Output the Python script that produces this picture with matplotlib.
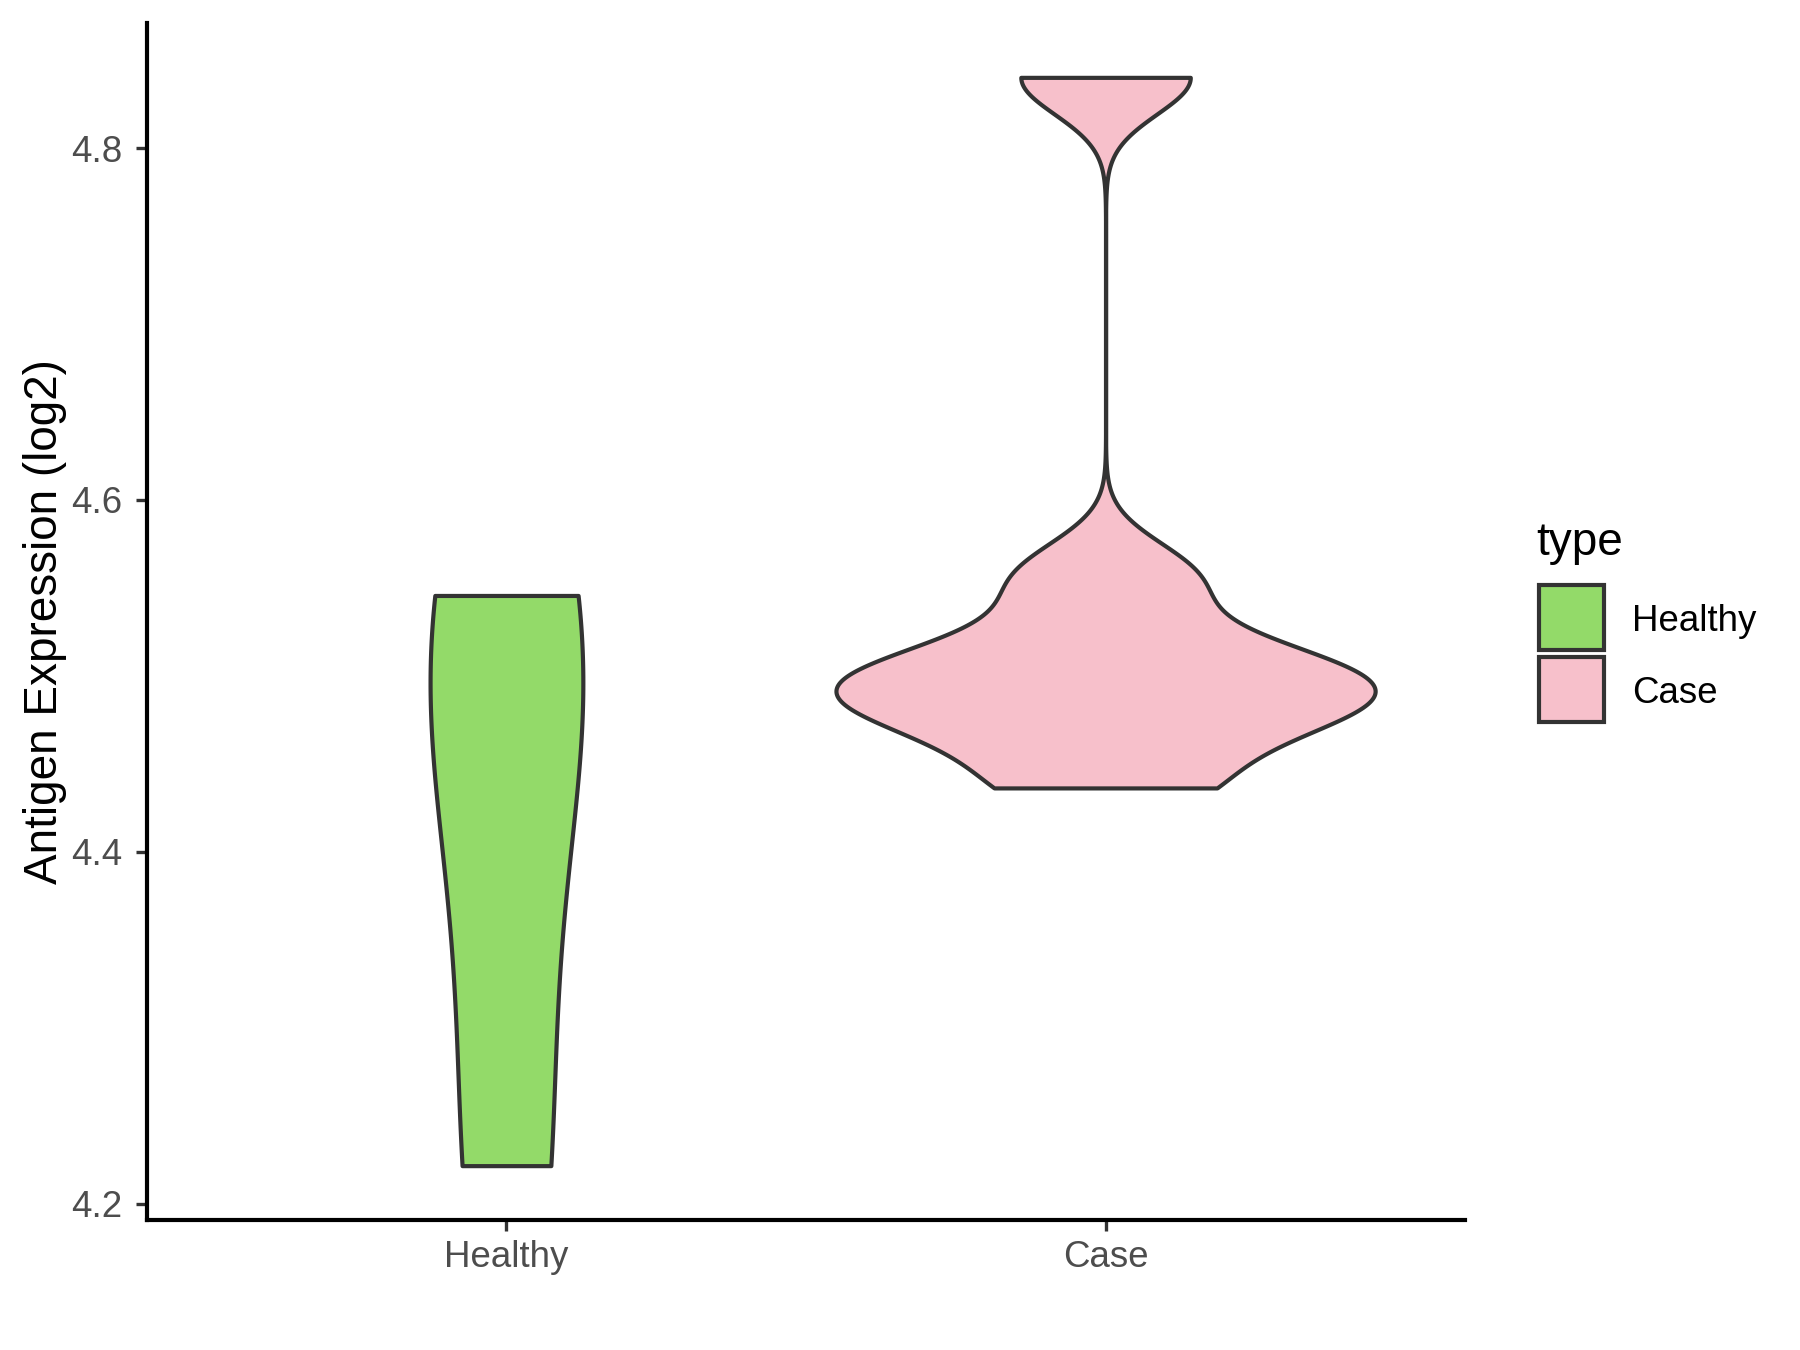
import numpy as np
import matplotlib
matplotlib.use("Agg")
import matplotlib.pyplot as plt
from matplotlib.patches import Rectangle

# groups and colours
groups = ["Healthy", "Case"]
colors = ["#93DA69", "#F7C0CB"]

# expression values (log2)
healthy_vals = [4.2216, 4.47, 4.5457]
case_vals = [4.4363, 4.471, 4.487, 4.497, 4.513, 4.556, 4.8402]

# kernel bandwidths and max violin widths as seen in the picture
bandwidths = [0.12, 0.0208]
widths = [0.255, 0.9]

yticks = [4.2, 4.4, 4.6, 4.8]

plt.rcParams['font.family'] = ['Liberation Sans', 'DejaVu Sans']

fig = plt.figure(figsize=(6, 4.5), dpi=300)
W, H = 1800.0, 1350.0
ax = fig.add_axes([147 / W, 1 - 1220 / H, (1465 - 147) / W, (1220 - 23) / H])

edge = "#333333"
for i, vals in enumerate([healthy_vals, case_vals]):
    d = np.array(vals)
    factor = bandwidths[i] / np.std(d, ddof=1)
    parts = ax.violinplot(d, positions=[i + 1], widths=widths[i], points=512,
                          bw_method=factor, showextrema=False)
    for body in parts["bodies"]:
        body.set_facecolor(colors[i])
        body.set_edgecolor(edge)
        body.set_linewidth(1.0)
        body.set_alpha(1)
        body.set_joinstyle("round")

ax.set_xlim(0.4, 2.6)
ax.set_ylim(4.1907, 4.8711)
ax.set_xticks([1, 2])
ax.set_xticklabels(groups)
ax.set_yticks(yticks)
ax.set_yticklabels([f"{t:.1f}" for t in yticks])

for s in ["top", "right"]:
    ax.spines[s].set_visible(False)
for s in ["left", "bottom"]:
    ax.spines[s].set_color("black")
    ax.spines[s].set_linewidth(1.0)

ax.tick_params(axis="both", length=2.75, width=0.8, color=edge,
               labelsize=8.8, labelcolor="#4D4D4D")
ax.tick_params(axis="y", pad=3.2)
ax.tick_params(axis="x", pad=2.0)

ax.set_ylabel("Antigen Expression (log2)", fontsize=11, color="black")
ax.yaxis.set_label_coords(-0.061, 0.5)

# legend drawn by hand, ggplot style
def fx(x):
    return x / W

def fy(y):
    return 1 - y / H

fig.text(fx(1536.7), fy(555), "type", fontsize=11, color="black",
         ha="left", va="baseline")
box_tops = [585.3, 657.0]
baselines = [630.7, 702.7]
for i, g in enumerate(groups):
    r = Rectangle((fx(1538.7), fy(box_tops[i] + 65)), 65.3 / W, 65 / H,
                  transform=fig.transFigure, facecolor=colors[i],
                  edgecolor=edge, linewidth=1.0)
    fig.add_artist(r)
    fig.text(fx(1631.7), fy(baselines[i]), g, fontsize=8.8, color="black",
             ha="left", va="baseline")

fig.savefig("out.png", dpi=300)
